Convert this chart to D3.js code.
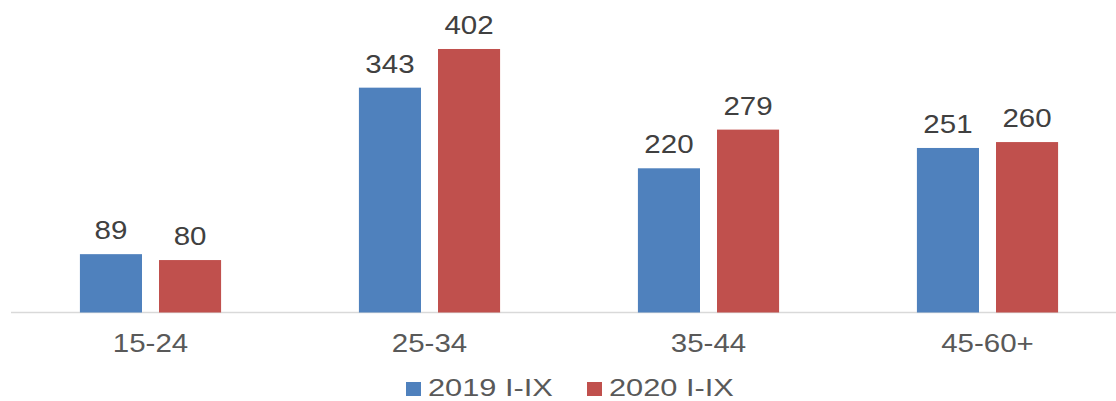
<!DOCTYPE html>
<html>
<head>
<meta charset="utf-8">
<script src="https://cdn.jsdelivr.net/npm/d3@7"></script>
<style>
  body { margin: 0; background: #fff; }
  svg text { font-family: "Liberation Sans", Arial, sans-serif; }
</style>
</head>
<body>
<div id="chart"></div>
<script>
const categories = ["15-24", "25-34", "35-44", "45-60+"];
const seriesNames = ["2019 I-IX", "2020 I-IX"];
const values2019 = [89, 343, 220, 251];
const values2020 = [80, 402, 279, 260];
const colors = ["#4F81BD", "#C0504D"];

const width = 1116, height = 401;
const baseY = 312.5;
const stretch = 1.18; // text in the source is widened horizontally

const svg = d3.select("#chart").append("svg")
    .attr("width", width)
    .attr("height", height);

const x0 = d3.scaleBand().domain(categories).range([11, 1127]);
const bw = x0.bandwidth();
const x1 = d3.scaleBand().domain(seriesNames)
    .range([bw * 0.247, bw * 0.753])
    .paddingInner(0.215);
const y = d3.scaleLinear().domain([0, 400]).range([baseY, baseY - 262.2]);

const rows = categories.map((c, i) => ({
    cat: c,
    vals: [values2019[i], values2020[i]].map((v, j) => ({ key: seriesNames[j], v, j }))
}));

// axis line
svg.append("line")
    .attr("x1", 11).attr("x2", width)
    .attr("y1", baseY).attr("y2", baseY)
    .attr("stroke", "#d9d9d9").attr("stroke-width", 1.5);

const g = svg.selectAll("g.grp")
    .data(rows)
    .join("g")
    .attr("class", "grp")
    .attr("transform", d => `translate(${x0(d.cat)},0)`);

g.selectAll("rect")
    .data(d => d.vals)
    .join("rect")
    .attr("x", d => x1(d.key))
    .attr("y", d => y(d.v))
    .attr("width", x1.bandwidth())
    .attr("height", d => baseY - y(d.v))
    .attr("fill", d => colors[d.j]);

g.selectAll("text.val")
    .data(d => d.vals)
    .join("text")
    .attr("class", "val")
    .attr("transform", d => `translate(${x1(d.key) + x1.bandwidth() / 2},${y(d.v) - 15}) scale(${stretch},1)`)
    .attr("text-anchor", "middle")
    .attr("font-size", 25)
    .attr("fill", "#404040")
    .text(d => d.v);

// category labels
svg.selectAll("text.cat")
    .data(categories)
    .join("text")
    .attr("class", "cat")
    .attr("transform", d => `translate(${x0(d) + bw / 2},352) scale(${stretch},1)`)
    .attr("text-anchor", "middle")
    .attr("font-size", 25)
    .attr("fill", "#595959")
    .text(d => d);

// legend
const legendX = [406, 587];
const lg = svg.selectAll("g.leg")
    .data(seriesNames)
    .join("g")
    .attr("class", "leg")
    .attr("transform", (d, i) => `translate(${legendX[i]},382)`);
lg.append("rect")
    .attr("width", 15).attr("height", 14)
    .attr("fill", (d, i) => colors[i]);
lg.append("text")
    .attr("transform", `translate(22,14) scale(1.31,1)`)
    .attr("font-size", 23.5)
    .attr("fill", "#595959")
    .text(d => d);
</script>
</body>
</html>
